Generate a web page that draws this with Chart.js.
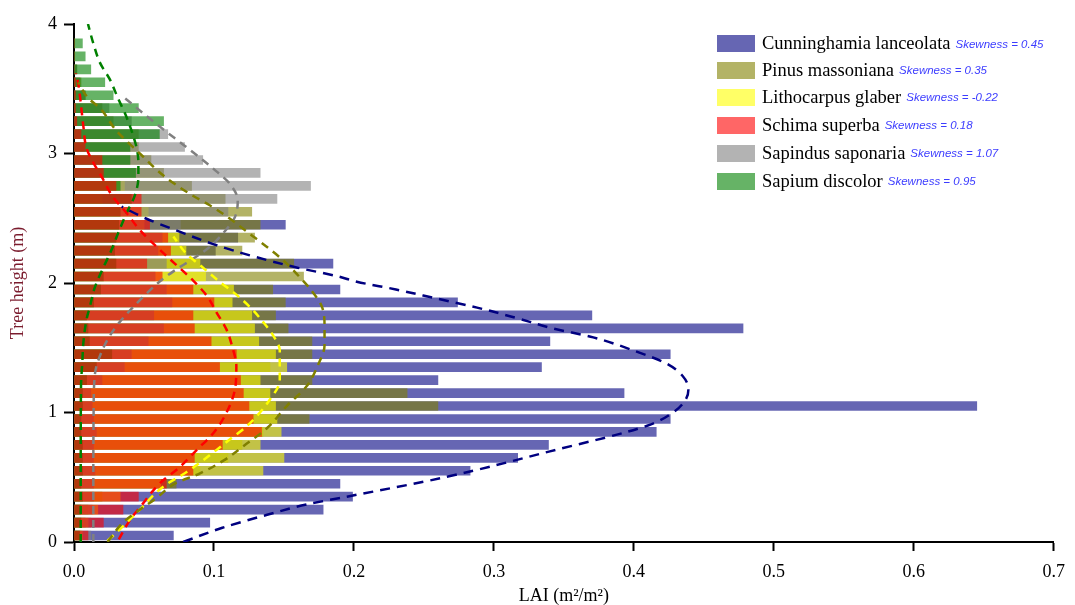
<!DOCTYPE html>
<html>
<head>
<meta charset="utf-8">
<title>LAI vertical profile</title>
<script src="https://cdn.jsdelivr.net/npm/chart.js@4.4.1/dist/chart.umd.min.js"></script>
<style>
    body { margin: 0; background: #fff; }
    #wrap { position: relative; width: 1075px; height: 605px; }
    #legend { position: absolute; left: 0; top: 0; font-family: 'Liberation Serif', 'Times New Roman', serif; }
    .row { position: absolute; left: 717px; height: 18px; display: flex; align-items: center; white-space: nowrap; }
    .sw { width: 38px; height: 17px; margin-right: 7px; }
    .name { font-size: 18.5px; color: #000; }
    .skew { font-family: 'Liberation Sans', Arial, sans-serif; font-style: italic; font-size: 11.5px; color: #3c3cff; margin-left: 5px; }
</style>
</head>
<body>
<div id="wrap">
    <canvas id="lai-chart" width="1075" height="605"></canvas>
    <div id="legend"></div>
</div>
<script>
// 高度层（m），每 0.1 m 一层
const heights = [0.05, 0.15, 0.25, 0.35, 0.45, 0.55, 0.65, 0.75, 0.85, 0.95,
    1.05, 1.15, 1.25, 1.35, 1.45, 1.55, 1.65, 1.75, 1.85, 1.95,
    2.05, 2.15, 2.25, 2.35, 2.45, 2.55, 2.65, 2.75, 2.85, 2.95,
    3.05, 3.15, 3.25, 3.35, 3.45, 3.55, 3.65, 3.75, 3.85];

// 各树种分层 LAI
const cunninghamia = [0.071, 0.097, 0.178, 0.199, 0.190, 0.283, 0.317, 0.339, 0.416, 0.426,
    0.645, 0.393, 0.260, 0.334, 0.426, 0.340, 0.478, 0.370, 0.274, 0.190,
    0, 0.185, 0.101, 0.117, 0.151, 0, 0, 0, 0, 0,
    0, 0, 0, 0, 0, 0, 0, 0, 0];
const pinus = [0.005, 0.008, 0.010, 0.020, 0.073, 0.090, 0.110, 0.120, 0.135, 0.168,
    0.260, 0.238, 0.170, 0.140, 0.170, 0.170, 0.153, 0.144, 0.151, 0.142,
    0.164, 0.157, 0.120, 0.129, 0.133, 0.127, 0.108, 0.084, 0.064, 0.055,
    0.046, 0.046, 0.028, 0.020, 0.008, 0.005, 0.002, 0, 0];
const lithocarpus = [0.006, 0.010, 0.017, 0.033, 0.062, 0.135, 0.150, 0.133, 0.148, 0.145,
    0.144, 0.140, 0.133, 0.152, 0.144, 0.132, 0.129, 0.127, 0.113, 0.114,
    0.094, 0.090, 0.080, 0.075, 0.050, 0.053, 0.020, 0.036, 0, 0,
    0, 0, 0, 0, 0, 0, 0, 0, 0];
const schima = [0.010, 0.021, 0.035, 0.046, 0.066, 0.085, 0.086, 0.106, 0.134, 0.128,
    0.125, 0.121, 0.119, 0.104, 0.116, 0.098, 0.086, 0.085, 0.100, 0.085,
    0.063, 0.052, 0.069, 0.067, 0.054, 0.048, 0.048, 0.030, 0.021, 0.020,
    0.008, 0.005, 0.002, 0.001, 0.001, 0.001, 0, 0, 0];
const sapindus = [0.012, 0.012, 0.013, 0.014, 0.014, 0.015, 0.014, 0.014, 0.016, 0.014,
    0.013, 0.012, 0.020, 0.036, 0.041, 0.053, 0.064, 0.057, 0.070, 0.066,
    0.058, 0.066, 0.060, 0.063, 0.076, 0.110, 0.145, 0.169, 0.133, 0.092,
    0.079, 0.067, 0.041, 0.025, 0.008, 0.004, 0.002, 0, 0];
const sapium = [0.004, 0.005, 0.005, 0.006, 0.005, 0.006, 0.006, 0.006, 0.005, 0.005,
    0.006, 0.006, 0.009, 0.016, 0.027, 0.011, 0.010, 0.009, 0.014, 0.019,
    0.021, 0.030, 0.029, 0.030, 0.032, 0.033, 0.041, 0.033, 0.044, 0.040,
    0.040, 0.061, 0.064, 0.046, 0.028, 0.022, 0.012, 0.008, 0.006];

// 拟合曲线（高度, LAI）
const cunninghamiaFitH = [0, 0.11, 0.21, 0.29, 0.35, 0.5, 0.7, 0.9, 1.0, 1.1, 1.18, 1.28, 1.38, 1.47,
    1.58, 1.65, 1.73, 1.81, 1.88, 1.95, 2.01, 2.05, 2.12, 2.2, 2.3, 2.4, 2.5, 2.59];
const cunninghamiaFitX = [0.078, 0.106, 0.138, 0.166, 0.195, 0.265, 0.34, 0.41, 0.428, 0.437, 0.439, 0.435, 0.423, 0.402,
    0.371, 0.342, 0.316, 0.288, 0.259, 0.230, 0.202, 0.189, 0.159, 0.130, 0.0995, 0.0745, 0.051, 0.034];

const pinusFitH = [0, 0.15, 0.25, 0.34, 0.45, 0.53, 0.63, 0.74, 0.88, 1.05, 1.2, 1.37, 1.52, 1.66,
    1.82, 1.95, 2.06, 2.17, 2.26, 2.36, 2.53, 2.6, 2.68, 2.82, 3.0, 3.18, 3.35, 3.43, 3.55];
const pinusFitX = [0.024, 0.035, 0.047, 0.059, 0.072, 0.090, 0.107, 0.121, 0.138, 0.152, 0.166, 0.1745, 0.179, 0.179,
    0.177, 0.169, 0.160, 0.150, 0.140, 0.128, 0.107, 0.097, 0.084, 0.065, 0.047, 0.030, 0.0186, 0.010, 0.003];

const lithocarpusFitH = [0.01, 0.09, 0.25, 0.43, 0.54, 0.67, 0.79, 0.89, 1.1, 1.25, 1.48, 1.6, 1.7,
    1.8, 1.91, 2.01, 2.12, 2.23, 2.36];
const lithocarpusFitX = [0.024, 0.032, 0.047, 0.064, 0.0805, 0.097, 0.111, 0.123, 0.140, 0.147, 0.147, 0.142, 0.135,
    0.127, 0.116, 0.104, 0.092, 0.080, 0.071];

const schimaFitH = [0.02, 0.17, 0.3, 0.45, 0.58, 0.71, 0.84, 1.0, 1.18, 1.36, 1.51, 1.64, 1.77, 1.9,
    2.02, 2.15, 2.28, 2.41, 2.54, 2.67, 2.82, 2.93, 3.04, 3.21, 3.44, 3.54, 3.62];
const schimaFitX = [0.032, 0.040, 0.0495, 0.061, 0.0757, 0.0876, 0.0995, 0.109, 0.115, 0.116, 0.113, 0.109, 0.102, 0.095,
    0.085, 0.072, 0.059, 0.047, 0.0376, 0.0275, 0.0198, 0.0138, 0.009, 0.0067, 0.0043, 0.003, 0.0014];

const sapindusFitH = [0, 0.5, 1.0, 1.3, 1.45, 1.6, 1.69, 1.8, 1.91, 2.01, 2.09, 2.18, 2.27, 2.39,
    2.51, 2.64, 2.77, 2.86, 2.95, 3.06, 3.21, 3.43];
const sapindusFitX = [0.0138, 0.0138, 0.014, 0.015, 0.019, 0.026, 0.032, 0.041, 0.051, 0.061, 0.071, 0.084, 0.096, 0.107,
    0.115, 0.117, 0.111, 0.102, 0.092, 0.079, 0.061, 0.036];

const sapiumFitH = [0, 0.6, 1.2, 1.4, 1.54, 1.72, 1.82, 1.97, 2.12, 2.26, 2.39, 2.54, 2.68, 2.82,
    2.93, 3.03, 3.18, 3.31, 3.42, 3.57, 3.7, 3.85, 4.0];
const sapiumFitX = [0.0048, 0.0048, 0.005, 0.006, 0.0067, 0.009, 0.0114, 0.015, 0.021, 0.027, 0.0317, 0.0376, 0.0436, 0.046,
    0.046, 0.045, 0.041, 0.0364, 0.0317, 0.0257, 0.0186, 0.0138, 0.010];

const species = [
    { name: 'Cunninghamia lanceolata', skew: '0.45', values: cunninghamia, fitH: cunninghamiaFitH, fitX: cunninghamiaFitX, rgb: '0,0,128', order: 6, dash: [10, 7] },
    { name: 'Pinus massoniana', skew: '0.35', values: pinus, fitH: pinusFitH, fitX: pinusFitX, rgb: '128,128,0', order: 5, dash: [8, 6] },
    { name: 'Lithocarpus glaber', skew: '-0.22', values: lithocarpus, fitH: lithocarpusFitH, fitX: lithocarpusFitX, rgb: '255,255,0', order: 4, dash: [8, 6] },
    { name: 'Schima superba', skew: '0.18', values: schima, fitH: schimaFitH, fitX: schimaFitX, rgb: '255,0,0', order: 1, dash: [8, 6] },
    { name: 'Sapindus saponaria', skew: '1.07', values: sapindus, fitH: sapindusFitH, fitX: sapindusFitX, rgb: '128,128,128', order: 3, dash: [8, 6] },
    { name: 'Sapium discolor', skew: '0.95', values: sapium, fitH: sapiumFitH, fitX: sapiumFitX, rgb: '0,128,0', order: 2, dash: [8, 6] }
];

const barFill = s => 'rgba(' + s.rgb + ',0.6)';

const datasets = [];
species.forEach(s => {
    datasets.push({
        type: 'bar',
        label: s.name,
        data: heights.map((h, i) => ({ x: s.values[i], y: h })),
        backgroundColor: barFill(s),
        borderWidth: 0,
        barThickness: 9,
        grouped: false,
        order: s.order
    });
});
species.forEach(s => {
    datasets.push({
        type: 'line',
        label: s.name + ' fit',
        data: s.fitH.map((h, i) => ({ x: s.fitX[i], y: h })),
        borderColor: 'rgb(' + s.rgb + ')',
        borderWidth: 2.5,
        borderDash: s.dash,
        pointRadius: 0,
        fill: false,
        tension: 0.4,
        cubicInterpolationMode: 'monotone',
        order: 0
    });
});

Chart.defaults.font.family = "'Liberation Serif', 'Times New Roman', serif";
Chart.defaults.color = '#000';

new Chart(document.getElementById('lai-chart'), {
    type: 'bar',
    data: { datasets: datasets },
    options: {
        responsive: false,
        animation: false,
        devicePixelRatio: 1,
        indexAxis: 'y',
        layout: { padding: { left: 0, top: 24, right: 21, bottom: 0 } },
        plugins: {
            legend: { display: false },
            tooltip: { enabled: false }
        },
        scales: {
            x: {
                type: 'linear',
                position: 'bottom',
                min: 0,
                max: 0.7,
                ticks: {
                    stepSize: 0.1,
                    maxRotation: 0,
                    padding: 10,
                    font: { size: 18 },
                    callback: v => v.toFixed(1)
                },
                grid: { drawOnChartArea: false, drawTicks: true, tickLength: 9, tickWidth: 2, tickColor: '#000' },
                border: { display: true, color: '#000', width: 2 },
                title: { display: true, text: 'LAI (m²/m²)', font: { size: 18, lineHeight: 1 }, padding: 0 },
                afterFit: scale => { scale.height = 63; }
            },
            y: {
                type: 'linear',
                position: 'left',
                min: 0,
                max: 4,
                offset: false,
                ticks: { stepSize: 1, padding: 7, font: { size: 18 } },
                grid: { offset: false, drawOnChartArea: false, drawTicks: true, tickLength: 10, tickWidth: 2, tickColor: '#000' },
                border: { display: true, color: '#000', width: 2 },
                title: { display: true, text: 'Tree height (m)', color: '#7b1c2e', font: { size: 18, lineHeight: 1 }, padding: { top: 9, bottom: 0 } },
                afterFit: scale => { scale.width = 74; }
            }
        }
    }
});

// 图例：色块 + 种名 + 偏度
const legend = document.getElementById('legend');
const rowCenters = [43.7, 70.3, 97, 125, 153.3, 181];
species.forEach((s, i) => {
    const row = document.createElement('div');
    row.className = 'row';
    row.style.top = (rowCenters[i] - 9) + 'px';
    row.innerHTML = '<div class="sw" style="background:' + barFill(s) + '"></div>' +
        '<span class="name">' + s.name + '</span>' +
        '<span class="skew">Skewness = ' + s.skew + '</span>';
    legend.appendChild(row);
});
</script>
</body>
</html>
